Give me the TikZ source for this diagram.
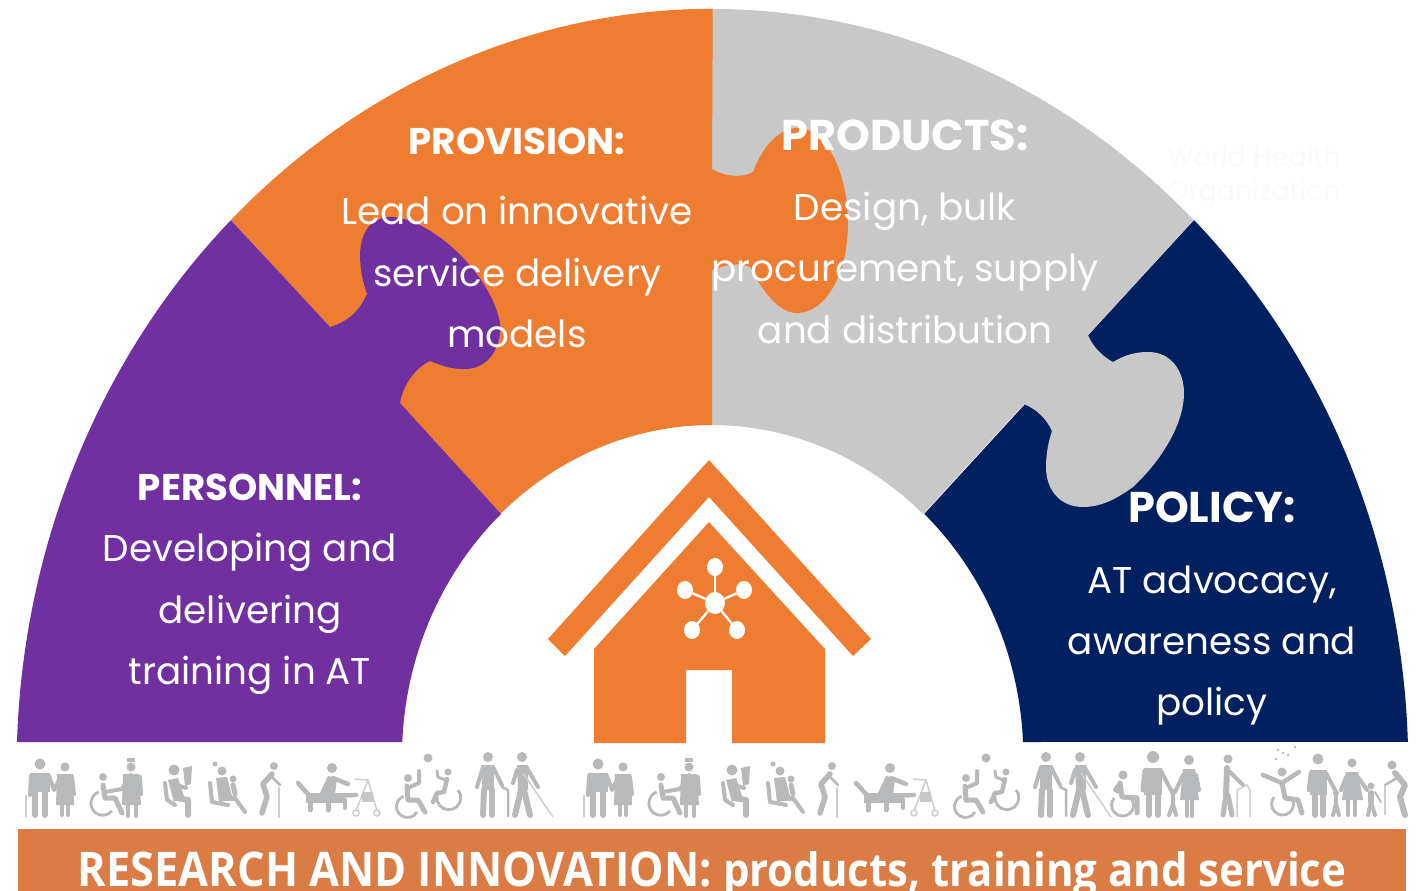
\documentclass[tikz,border=0pt]{standalone}
\usepackage{fontspec}
\usepackage{xcolor}
\usetikzlibrary{calc, positioning, shapes.geometric}
\setmainfont{Poppins}
\newfontfamily\barfont{Open Sans}
\definecolor{puzorange}{HTML}{EE7D31}
\definecolor{puzpurple}{HTML}{7030A0}
\definecolor{puznavy}{HTML}{002060}
\definecolor{puzgrey}{HTML}{C8C8C8}
\definecolor{barorange}{HTML}{DA7C44}
\definecolor{figgrey}{HTML}{B7B9BB}
\tikzset{
  % Puzzle text styles
  heading/.style={
    text=white
    , font=\fontsize{37.2}{44}\selectfont\bfseries
    , inner sep=0pt
    , text height=28pt
    , text depth=9pt
    , anchor=center
  },
  bigheading/.style={
    heading
    , font=\fontsize{43}{50}\selectfont\bfseries
  },
  blurb/.style={
    text=white
    , font=\fontsize{37.3}{44}\selectfont
    , inner sep=0pt
    , text height=28pt
    , text depth=9pt
    , anchor=center
  },
}
\tikzset{
  % House hub styles
  hubdot/.style={
    fill=white
    , ellipse
    , inner sep=0pt
    , minimum width=20pt
    , minimum height=22pt
  },
  satdot/.style={
    fill=white
    , ellipse
    , inner sep=0pt
    , minimum width=16pt
    , minimum height=18pt
  },
  spoke/.style={
    white
    , line width=2.4pt
  },
}
\tikzset{
  % People pictogram styles
  figleg/.style={
    figgrey
    , line width=6pt
    , line cap=round
    , line join=round
  },
  figarm/.style={
    figgrey
    , line width=4pt
    , line cap=round
    , line join=round
  },
  figthin/.style={
    figgrey!70
    , line width=1.5pt
  },
  figwheel/.style={
    figgrey
    , line width=2.8pt
  },
}
% x y radius
\newcommand{\fighead}[3]{\fill[figgrey] (#1,#2) circle (#3);}
% the run of people that appears twice
\newcommand{\peoplerun}{
  % couple with cane
  \fighead{40}{764}{5.5}
  \fill[figgrey] (30,773) rectangle (50,792);
  \draw[figleg] (35,790) -- (35,815);
  \draw[figleg] (45,790) -- (45,815);
  \draw[figarm] (31,776) -- (30,795);
  \draw[figarm] (49,776) -- (54,790) -- (60,778);
  \draw[figthin] (26,795) -- (26,817);
  \fighead{65}{767}{4.5}
  \fill[figgrey] (57,774) -- (73,774) -- (74,805) -- (56,805) -- cycle;
  \draw[figarm] (62,805) -- (62,815);
  \draw[figarm] (68,805) -- (68,815);
  \draw[figarm] (72,777) -- (74,794);
  % carer and wheelchair
  \fighead{103}{777}{4}
  \draw[figwheel] (112,811) arc[start angle=-40,end angle=-250,radius=12pt];
  \draw[figleg,line width=5pt] (103,785) -- (105,798) -- (115,798) -- (122,813);
  \draw[figarm] (105,792) -- (122,789) -- (131,775);
  \fighead{131}{767}{4.5}
  \fill[figgrey] (127,758) rectangle (135,762);
  \fill[figgrey] (123,774) -- (139,774) -- (141,805) -- (122,805) -- cycle;
  \draw[figarm] (128,805) -- (128,816);
  \draw[figarm] (136,805) -- (136,816);
  \draw[figarm] (140,777) -- (141,794);
  % reader
  \fighead{174}{770}{5.5}
  \draw[figarm] (165,783) -- (167,800) -- (175,805);
  \fill[figgrey] (168,780) -- (178,778) -- (184,796) -- (174,802) -- cycle;
  \draw[figleg] (177,798) -- (188,800) -- (188,815);
  \draw[figarm] (176,785) -- (186,788);
  \fill[figgrey] (183,768) -- (192,766) -- (191,784) -- (185,786) -- cycle;
  % woman with child on the lap
  \fighead{222}{771}{4.5}
  \fill[figgrey] (215,764) circle (2.5);
  \draw[figarm] (210,783) -- (212,802) -- (228,805);
  \fill[figgrey] (216,778) -- (227,777) -- (233,800) -- (219,802) -- cycle;
  \draw[figleg,line width=5pt] (223,798) -- (235,798);
  \draw[figleg,line width=4pt] (235,798) -- (245,812);
  \fighead{233}{779}{3.5}
  \draw[figleg,line width=5pt] (233,785) -- (235,794);
  % old man
  \fighead{274}{766}{4}
  \draw[figleg,line width=5.5pt] (272,774) -- (263,784) -- (267,797) -- (262,813);
  \draw[figarm,line width=2.5pt] (272,777) -- (280,785);
  \draw[figthin] (279,787) -- (279,818);
  % physio bench and walker
  \fighead{332}{768}{5}
  \fill[figgrey] (328,776) -- (337,778) -- (335,795) -- (319,795) -- cycle;
  \draw[figarm,line width=4.5pt] (333,778) -- (348,784);
  \draw[figarm,line width=4.5pt] (298,783) -- (307,793) -- (312,797) -- (356,795);
  \fill[figgrey] (306,793) rectangle (345,803);
  \draw[figarm,line width=5pt] (310,800) -- (310,810);
  \draw[figarm,line width=5pt] (328,800) -- (328,810);
  \draw[figarm,line width=4pt] (345,800) -- (345,808);
  \draw[figthin] (355,779) -- (368,780) -- (377,811);
  \draw[figthin] (368,780) -- (356,811);
  \fill[figgrey!80] (362,792) rectangle (373,802);
  \draw[figthin] (356,813) circle (3);
  \draw[figthin] (377,813) circle (3);
  % two wheelchair players and ball
  \fighead{428}{758}{4.5}
  \fighead{408}{778}{4}
  \draw[figwheel] (417,812) arc[start angle=-30,end angle=-250,radius=11pt];
  \draw[figleg,line width=5pt] (407,786) -- (408,800) -- (418,800) -- (425,812);
  \draw[figarm] (410,787) -- (419,783) -- (419,771);
  \fighead{448}{772}{3.5}
  \draw[figwheel] (458,790) arc[start angle=40,end angle=-190,radius=12pt];
  \draw[figleg,line width=4.5pt] (447,779) -- (444,792) -- (437,793) -- (433,802);
  \draw[figarm,line width=3pt] (445,780) -- (438,777) -- (437,771);
  % man with stick, blind man
  \fighead{488}{757}{5}
  \fill[figgrey] (482,765) -- (494,765) -- (494,790) -- (482,790) -- cycle;
  \draw[figleg] (484,790) -- (483,815);
  \draw[figleg] (492,790) -- (492,815);
  \draw[figarm] (483,767) -- (477,787);
  \draw[figarm] (493,767) -- (502,785);
  \draw[figarm,line width=2.5pt] (502,787) -- (508,790) -- (508,816);
  \fighead{522}{757}{5}
  \fill[figgrey] (517,765) -- (528,765) -- (528,790) -- (518,790) -- cycle;
  \draw[figleg] (521,790) -- (515,815);
  \draw[figleg] (524,790) -- (530,815);
  \draw[figarm] (517,770) -- (513,783);
  \draw[figarm] (527,768) -- (538,787);
  \draw[figthin] (523,773) -- (553,817);
}

\begin{document}
\begin{tikzpicture}[x=1pt,y=-1pt]
  \useasboundingbox (0,0) rectangle (1422,891);
  \fill[white] (0,0) rectangle (1422,891);

  % faint mark at the rim
  \node[text=black!2,font=\fontsize{27}{34}\selectfont,align=left,inner sep=0pt] (mark) at (1254,177) {World Health\\Organization};

  % puzzle pieces, tabs go on top
  \fill[puznavy] (1194,220) arc[start angle=46.2,end angle=1.96,x radius=696pt,y radius=759pt]
    -- (1023,742) arc[start angle=2.59,end angle=47.07,x radius=310.6pt,y radius=332pt] -- cycle;
  \fill[puzgrey] (712,9) arc[start angle=90,end angle=46.2,x radius=696pt,y radius=759pt]
    -- (1088,335) .. controls (1093,347) and (1102,356) .. (1113,362)
    .. controls (1125,355) and (1135,352) .. (1148,352)
    .. controls (1172,352) and (1184,372) .. (1184,393)
    .. controls (1184,425) and (1160,462) .. (1133,487)
    .. controls (1115,500) and (1100,507) .. (1083,507)
    .. controls (1060,507) and (1046,490) .. (1046,467)
    .. controls (1046,455) and (1048,443) .. (1052,431)
    .. controls (1046,418) and (1036,409) .. (1024,404)
    -- (923,514) arc[start angle=47.07,end angle=90,x radius=310.6pt,y radius=332pt] -- cycle;
  \fill[puzorange] (231,220) arc[start angle=133.8,end angle=90,x radius=696pt,y radius=759pt]
    -- (712,169) .. controls (725,177) and (742,178) .. (753,172)
    .. controls (763,145) and (780,128) .. (797,128)
    .. controls (830,128) and (848,180) .. (848,223)
    .. controls (848,275) and (825,313) .. (797,313)
    .. controls (778,313) and (762,290) .. (750,267)
    .. controls (738,262) and (725,265) .. (712,270)
    -- (712,425) arc[start angle=90,end angle=132.93,x radius=310.6pt,y radius=332pt] -- cycle;
  \fill[puzpurple] (17,742) arc[start angle=178.04,end angle=133.8,x radius=696pt,y radius=759pt]
    -- (330,327) .. controls (348,322) and (360,310) .. (367,294)
    .. controls (356,262) and (355,222) .. (387,217)
    .. controls (425,214) and (490,270) .. (500,323)
    .. controls (502,345) and (490,370) .. (463,369)
    .. controls (450,369) and (440,365) .. (430,361)
    .. controls (415,368) and (403,385) .. (400,403)
    -- (501,514) arc[start angle=132.93,end angle=177.41,x radius=310.6pt,y radius=332pt] -- cycle;

  % house
  \fill[puzorange] (709,460) -- (871,639) -- (853,656) -- (709,497) -- (565,656) -- (548,639) -- cycle;
  \fill[puzorange] (709,522) -- (825,649) -- (825,743) -- (732,743) -- (732,670) -- (686,670) -- (686,743) -- (594,743) -- (594,649) -- cycle;
  \node[hubdot] (hub) at (715,603) {};
  \node[satdot] (sattop) at (715,567) {};
  \node[satdot] (satleft) at (685,590) {};
  \node[satdot] (satright) at (744,590) {};
  \node[satdot] (satlow) at (692,630) {};
  \node[satdot] (satfar) at (737,630) {};
  \foreach \sat in {sattop,satleft,satright,satlow,satfar}
    \draw[spoke] (hub) -- (\sat);

  % provision text
  \node[heading] (provhead) at (517,145) {PROVISION:};
  \node[blurb, below of=provhead, node distance=70pt] (provone) {Lead on innovative};
  \node[blurb, below of=provone, node distance=62pt] (provtwo) {service delivery};
  \node[blurb, below of=provtwo, node distance=61pt] (provthree) {models};

  % products text
  \node[bigheading] (prodhead) at (905,141) {PRODUCTS:};
  \node[blurb, below of=prodhead, node distance=70pt] (prodone) {Design, bulk};
  \node[blurb, below of=prodone, node distance=61pt] (prodtwo) {procurement, supply};
  \node[blurb, below of=prodtwo, node distance=62pt] (prodthree) {and distribution};

  % personnel text
  \node[heading] (perhead) at (250,491) {PERSONNEL:};
  \node[blurb, below of=perhead, node distance=61pt] (perone) {Developing and};
  \node[blurb, below of=perone, node distance=62pt] (pertwo) {delivering};
  \node[blurb, below of=pertwo, node distance=61pt] (perthree) {training in AT};

  % policy text
  \node[bigheading] (polhead) at (1212,513) {POLICY:};
  \node[blurb, below of=polhead, node distance=71pt] (polone) {AT advocacy,};
  \node[blurb, below of=polone, node distance=61pt] (poltwo) {awareness and};
  \node[blurb, below of=poltwo, node distance=61pt] (polthree) {policy};

  % people row
  \peoplerun
  \begin{scope}[xshift=558pt]
    \peoplerun
  \end{scope}

  % extra people at the right end
  \fighead{1123}{775}{4.5}
  \draw[figwheel] (1131,798) arc[start angle=40,end angle=-220,radius=11pt];
  \draw[figleg,line width=5pt] (1120,783) -- (1122,797) -- (1137,798) -- (1137,813);
  \draw[figarm] (1120,783) -- (1115,790) -- (1122,793);
  \fighead{1153}{757}{6}
  \fill[figgrey] (1144,768) rectangle (1162,795);
  \draw[figleg] (1149,795) -- (1149,815);
  \draw[figleg] (1158,795) -- (1158,815);
  \draw[figarm,line width=5pt] (1145,771) -- (1143,790);
  \draw[figarm] (1161,771) -- (1172,792);
  \fighead{1173}{792}{3}
  \draw[figarm] (1173,795) -- (1173,804) -- (1169,815);
  \draw[figarm] (1173,804) -- (1176,815);
  \fighead{1189}{760}{5}
  \fill[figgrey] (1183,769) -- (1195,769) -- (1199,800) -- (1180,800) -- cycle;
  \draw[figarm] (1187,800) -- (1187,816);
  \draw[figarm] (1192,800) -- (1192,816);
  \draw[figarm] (1183,775) -- (1175,792);
  \draw[figarm] (1196,775) -- (1199,790);
  \fighead{1228}{759}{4.5}
  \draw[figleg] (1227,768) -- (1226,795);
  \draw[figleg,line width=5pt] (1226,795) -- (1223,815);
  \draw[figleg,line width=5pt] (1228,795) -- (1232,815);
  \draw[figarm] (1230,772) -- (1243,785);
  \draw[figthin] (1237,817) -- (1237,790) -- (1247,785) -- (1250,790) -- (1250,817);
  \foreach \xs/\ys in {1278/750,1295/747,1283/753,1288/755,1276/759}
    \fill[figgrey] (\xs,\ys) circle (1.4);
  \fighead{1282}{772}{4.5}
  \draw[figwheel] (1291,797) arc[start angle=40,end angle=-220,radius=11pt];
  \draw[figarm,line width=4.5pt] (1263,775) -- (1282,783) -- (1299,772);
  \draw[figleg,line width=5pt] (1282,783) -- (1285,798) -- (1298,800) -- (1302,813);
  \fighead{1318}{759}{5.5}
  \fill[figgrey] (1310,770) rectangle (1327,795);
  \draw[figleg] (1315,795) -- (1315,815);
  \draw[figleg] (1323,795) -- (1323,815);
  \draw[figarm,line width=4.5pt] (1311,773) -- (1309,790);
  \draw[figarm] (1326,773) -- (1335,790);
  \fighead{1336}{793}{3}
  \draw[figarm] (1336,796) -- (1336,804) -- (1333,815);
  \draw[figarm] (1336,804) -- (1339,815);
  \fighead{1352}{763}{4.5}
  \fill[figgrey] (1346,772) -- (1358,772) -- (1363,800) -- (1342,800) -- cycle;
  \draw[figarm] (1348,800) -- (1348,815);
  \draw[figarm] (1355,800) -- (1355,815);
  \draw[figarm] (1346,777) -- (1341,790);
  \draw[figarm] (1358,777) -- (1367,790);
  \fighead{1371}{786}{3.5}
  \draw[figleg] (1371,793) -- (1371,802);
  \draw[figarm] (1371,802) -- (1368,815);
  \draw[figarm] (1371,802) -- (1375,815);
  \draw[figarm,line width=2pt] (1375,792) -- (1381,802);
  \fighead{1392}{765}{4.5}
  \draw[figleg] (1395,773) -- (1405,785) -- (1400,797) -- (1405,815);
  \draw[figarm,line width=2.5pt] (1397,778) -- (1385,785);
  \draw[figthin] (1385,785) -- (1385,815);

  % research bar, text runs off the lower edge
  \begin{scope}
    \clip (0,0) rectangle (1422,891);
    \fill[barorange] (18,829) rectangle (1406,891);
    \node[text=white,font=\barfont\fontsize{42.6}{50}\selectfont\bfseries,inner sep=0pt,anchor=base] (resbar) at (712,886)
      {\scalebox{1.018}[1.12]{RESEARCH AND INNOVATION:} \scalebox{.984}[1.08]{products, training and service}};
  \end{scope}
\end{tikzpicture}
\end{document}
